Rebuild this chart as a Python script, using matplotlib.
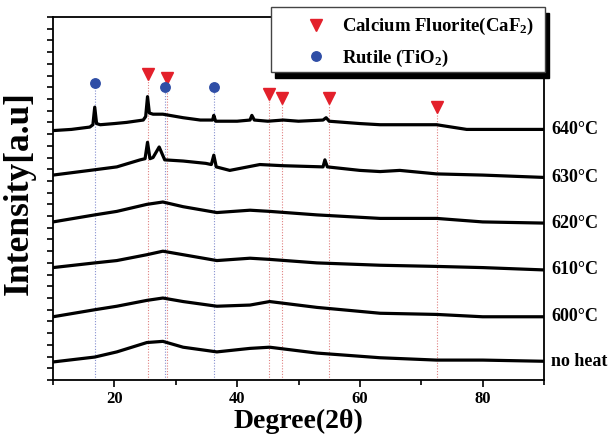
import matplotlib
matplotlib.use("Agg")
import matplotlib.pyplot as plt
from matplotlib.lines import Line2D
from matplotlib.patches import Rectangle
from matplotlib.ticker import MultipleLocator

plt.rcParams['font.family'] = ['Liberation Serif', 'DejaVu Serif']
plt.rcParams['font.weight'] = 'bold'
plt.rcParams['mathtext.fontset'] = 'custom'
plt.rcParams['mathtext.rm'] = 'Liberation Serif:bold'
plt.rcParams['mathtext.bf'] = 'Liberation Serif:bold'
plt.rcParams['mathtext.it'] = 'Liberation Serif:bold:italic'
plt.rcParams['mathtext.default'] = 'rm'

# ---- data ----
labels = ['640°C', '630°C', '620°C', '610°C', '600°C', 'no heat']

x_640 = [10, 13, 16, 16.5, 16.8, 17.1, 17.7, 20, 22, 24.7, 25.1, 25.4, 25.7, 26.3, 27.9, 29, 31.2,
         34, 36, 36.2, 36.5, 40, 42.1, 42.4, 42.8, 45, 47.5, 50, 54, 54.5, 55, 60, 63.3, 66.5,
         72.5, 77.4, 90]
y_640 = [21.3, 21.4, 21.6, 21.8, 23.3, 21.9, 21.8, 21.9, 22.0, 22.2, 22.5, 24.2, 22.8, 22.7, 22.7,
         22.6, 22.4, 22.2, 22.2, 22.6, 22.1, 22.1, 22.2, 22.6, 22.2, 22.1, 22.2, 22.1, 22.2, 22.4,
         22.1, 21.9, 21.8, 21.8, 21.8, 21.4, 21.4]

x_630 = [10, 16, 20.4, 24.2, 25.0, 25.4, 25.8, 26.3, 27.3, 28.2, 31.2, 34.9, 35.8, 36.2, 36.6,
         38.8, 43.7, 47.5, 54.0, 54.3, 54.7, 60, 63.3, 66.5, 72.5, 80, 90]
y_630 = [17.5, 17.9, 18.2, 18.8, 18.9, 20.3, 18.9, 19.0, 19.9, 18.8, 18.7, 18.5, 18.4, 19.2,
         18.2, 17.9, 18.4, 18.3, 18.2, 18.8, 18.2, 17.9, 17.8, 17.9, 17.6, 17.5, 17.3]

x_bg = [10, 16.8, 20.4, 25.3, 27.9, 31.2, 36.7, 42.1, 45.3, 53, 63.3, 72.5, 80, 90]
y_620 = [13.5, 14.1, 14.4, 15.0, 15.2, 14.8, 14.3, 14.5, 14.4, 14.1, 13.8, 13.8, 13.5, 13.4]
y_610 = [9.6, 10.0, 10.2, 10.7, 11.0, 10.7, 10.2, 10.4, 10.3, 10.0, 9.8, 9.7, 9.6, 9.4]
y_600 = [5.4, 6.0, 6.3, 6.8, 7.0, 6.7, 6.3, 6.4, 6.7, 6.2, 5.7, 5.6, 5.4, 5.4]
y_noheat = [1.54, 1.96, 2.4, 3.2, 3.3, 2.8, 2.4, 2.7, 2.8, 2.3, 1.9, 1.7, 1.7, 1.6]

caf2_pos = [25.4, 28.5, 45.2, 47.3, 55.0, 72.5]
caf2_h = [26.1, 25.8, 24.4, 24.1, 24.1, 23.3]
tio2_pos = [16.8, 28.2, 36.2]
tio2_h = [25.4, 25.0, 25.0]

legend_labels = ['Calcium Fluorite(CaF$_2$)', 'Rutile (TiO$_2$)']

RED = '#e3202b'
BLUE = '#2f4ea6'

fig = plt.figure(figsize=(6.13, 4.43), dpi=100)
ax = fig.add_axes([53/613, 1-380/443, (544-53)/613, (380-17)/443])

traces = [(x_640, y_640), (x_630, y_630), (x_bg, y_620), (x_bg, y_610), (x_bg, y_600), (x_bg, y_noheat)]

ax.vlines(caf2_pos, 0, caf2_h, colors='#e08080', linestyles=(0, (1, 1.5)), linewidth=0.8, zorder=1)
ax.vlines(tio2_pos, 0, tio2_h, colors='#8690d0', linestyles=(0, (1, 1.5)), linewidth=0.8, zorder=1)

for (xs, ys), lab in zip(traces, labels):
    ax.plot(xs, ys, color='black', linewidth=2.3, solid_joinstyle='round', zorder=3)
    ax.text(1.015, ys[-1], lab, transform=ax.get_yaxis_transform(), ha='left', va='center',
            fontsize=13, fontweight='bold')

ax.plot(caf2_pos, caf2_h, linestyle='none', marker='v', color=RED, markersize=8, zorder=4)
ax.plot(tio2_pos, tio2_h, linestyle='none', marker='o', color=BLUE, markersize=6.8, zorder=4)

ax.set_xlim(10, 90)
ax.set_ylim(0, 31)
ax.xaxis.set_major_locator(MultipleLocator(20))
ax.xaxis.set_minor_locator(MultipleLocator(10))
ax.yaxis.set_major_locator(MultipleLocator(1))
ax.tick_params(axis='x', which='major', direction='out', length=5, width=1.2, labelsize=12, pad=3)
ax.tick_params(axis='x', which='minor', direction='out', length=3.5, width=1.2)
ax.tick_params(axis='y', which='major', direction='out', length=4.5, width=1.2, labelleft=False)
for s in ax.spines.values():
    s.set_linewidth(1.3)
for t in ax.get_xticklabels():
    t.set_fontweight('bold')

ax.set_xlabel('Degree(2θ)', fontsize=20, fontweight='bold', labelpad=1)
ax.set_ylabel('Intensity[a.u]', fontsize=25.5, fontweight='bold')
ax.yaxis.set_label_coords(-0.036, 0.515)

# legend box with shadow
bx0, by0, bw, bh = 271/613, 1-72/443, 274/613, 65/443
fig.patches.append(Rectangle((bx0 + 4/613, by0 - 6/443), bw, bh, transform=fig.transFigure,
                             facecolor='black', edgecolor='black', zorder=3))
fig.patches.append(Rectangle((bx0, by0), bw, bh, transform=fig.transFigure,
                             facecolor='white', edgecolor='#444444', linewidth=1.0, zorder=3.5))

handles = [Line2D([], [], linestyle='none', marker='v', color=RED, markersize=8),
           Line2D([], [], linestyle='none', marker='o', color=BLUE, markersize=6.8)]
fig.legend(handles, legend_labels, loc='upper left', bbox_to_anchor=(307/613, 1-16/443),
           frameon=False, prop={'family': 'Liberation Serif', 'weight': 'bold', 'size': 13.5},
           handlelength=1.0, handletextpad=0.85, labelspacing=0.55, borderpad=0, borderaxespad=0)

fig.savefig('out.png', dpi=100)
